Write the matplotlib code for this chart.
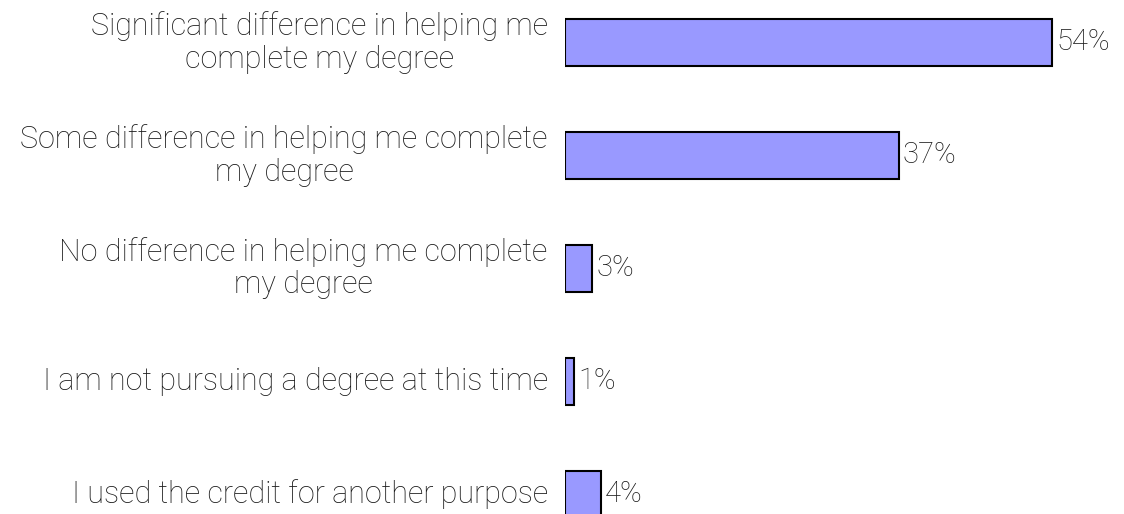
import matplotlib
matplotlib.use("Agg")
import matplotlib.pyplot as plt

categories = [
    "Significant difference in helping me\ncomplete my degree",
    "Some difference in helping me complete\nmy degree",
    "No difference in helping me complete\nmy degree",
    "I am not pursuing a degree at this time",
    "I used the credit for another purpose",
]
values = [54, 37, 3, 1, 4]
value_labels = ["54%", "37%", "3%", "1%", "4%"]

plt.rcParams['font.family'] = ['Roboto', 'DejaVu Sans']

W, H = 1124, 514
fig = plt.figure(figsize=(W / 100, H / 100), dpi=100)
left_px = 565
ax = fig.add_axes([left_px / W, 0, 1 - left_px / W, 1])

px_per_unit = 112.9
y0_px = 42.5
ax.set_ylim((H - y0_px) / px_per_unit, -y0_px / px_per_unit)
px_per_pct = 9.02
ax.set_xlim(0, (W - left_px) / px_per_pct)

ypos = list(range(len(values)))
ax.barh(ypos, values, height=0.415, color="#9999FF", edgecolor="black", linewidth=1.5)

for y, v, lab in zip(ypos, values, value_labels):
    ax.text(v + 0.45, y, lab, va="center", ha="left", fontsize=21, color="#1a1a1a", fontweight="light")

for y, cat in zip(ypos, categories):
    ax.text(-1.9, y, cat, va="center", ha="right", multialignment="center",
            fontsize=22, color="#1a1a1a", fontweight="light", linespacing=1.15, clip_on=False)

ax.axis("off")
fig.savefig("out.png", dpi=100)
